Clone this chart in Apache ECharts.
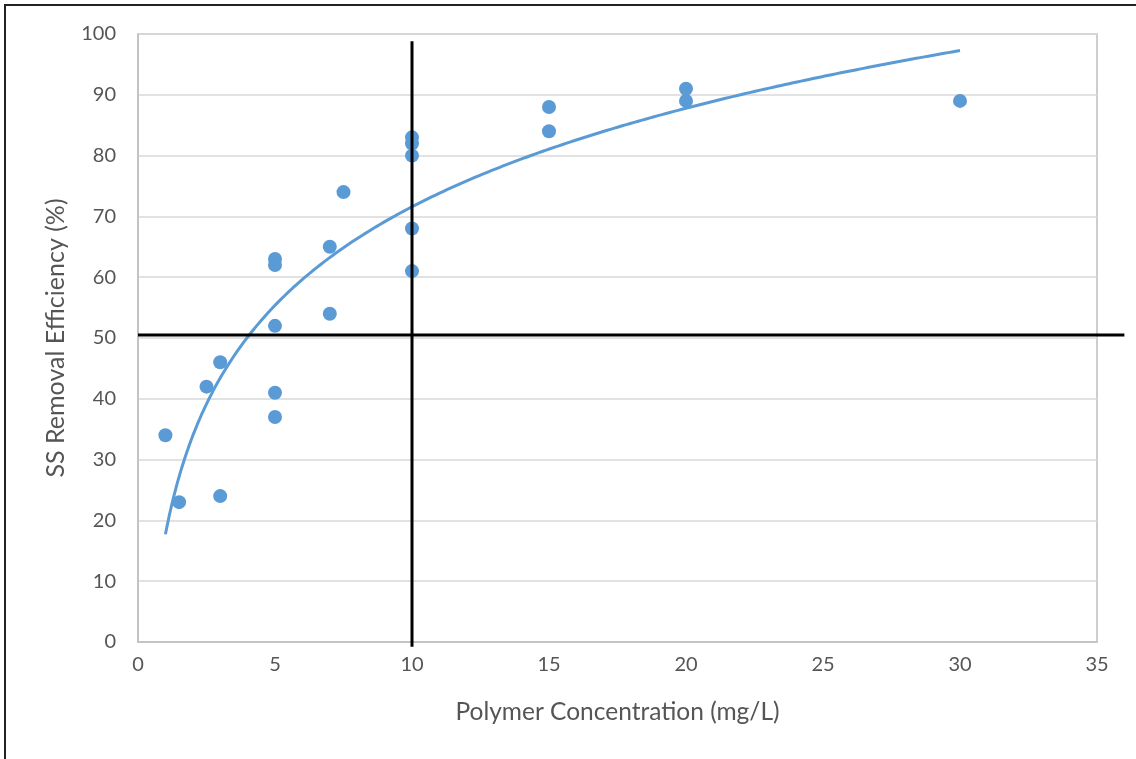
<!DOCTYPE html>
<html>
<head>
<meta charset="utf-8">
<script src="https://cdn.jsdelivr.net/npm/echarts@6/dist/echarts.min.js"></script>
<style>
  html, body { margin: 0; padding: 0; background: #fff; }
  #frame { position: absolute; left: 4px; top: 4px; width: 1140px; height: 760px; border-left: 2px solid #222; border-top: 2px solid #222; }
  #chart { position: absolute; left: 0; top: 0; width: 1136px; height: 759px; }
</style>
</head>
<body>
<div id="frame"></div>
<div id="chart"></div>
<script>
// Polymer dose (mg/L) against suspended-solids removal (%)
const concentration = [1, 1.5, 2.5, 3, 3, 5, 5, 5, 5, 5, 7, 7, 7.5, 10, 10, 10, 10, 10, 15, 15, 20, 20, 30];
const removal       = [34, 23, 42, 46, 24, 63, 62, 52, 41, 37, 65, 54, 74, 83, 82, 80, 68, 61, 88, 84, 91, 89, 89];

// Reference lines as [x1, y1, x2, y2] in data units
const refVertical   = [10, -0.8, 10, 98.8];   // marker at 10 mg/L
const refHorizontal = [0, 50.5, 36, 50.5];    // marker near 50 %

const xTicks = { min: 0, max: 35, interval: 5 };
const yTicks = { min: 0, max: 100, interval: 10 };

// Logarithmic least-squares fit: y = a ln(x) + b
function logFit(xs, ys) {
  const n = xs.length;
  let sl = 0, sy = 0, sll = 0, sly = 0;
  for (let i = 0; i < n; i++) {
    const l = Math.log(xs[i]);
    sl += l; sy += ys[i]; sll += l * l; sly += l * ys[i];
  }
  const a = (n * sly - sl * sy) / (n * sll - sl * sl);
  const b = (sy - a * sl) / n;
  return { a, b };
}
const fit = logFit(concentration, removal);
const xMin = Math.min(...concentration), xMax = Math.max(...concentration);
const trend = [];
for (let i = 0; i <= 200; i++) {
  const x = xMin + (xMax - xMin) * i / 200;
  trend.push([x, fit.a * Math.log(x) + fit.b]);
}

const points = concentration.map((x, i) => [x, removal[i]]);
const font = 'Lato, "Open Sans", sans-serif';
const grey = '#555555';

const chart = echarts.init(document.getElementById('chart'), null, { renderer: 'canvas' });
chart.setOption({
  animation: false,
  backgroundColor: 'transparent',
  grid: { left: 138, top: 34, right: 39, bottom: 117, show: true, borderColor: '#bfbfbf', borderWidth: 1.5 },
  xAxis: {
    type: 'value', min: xTicks.min, max: xTicks.max, interval: xTicks.interval,
    name: 'Polymer Concentration (mg/L)', nameLocation: 'middle', nameGap: 58,
    nameTextStyle: { fontFamily: font, fontSize: 24.5, color: grey },
    axisLine: { show: true, lineStyle: { color: '#bfbfbf', width: 1.5 } },
    axisTick: { show: false },
    axisLabel: { fontFamily: font, fontSize: 20, color: grey, margin: 13 },
    splitLine: { show: false }
  },
  yAxis: {
    type: 'value', min: yTicks.min, max: yTicks.max, interval: yTicks.interval,
    name: 'SS Removal Efficiency (%)', nameLocation: 'middle', nameGap: 70,
    nameTextStyle: { fontFamily: font, fontSize: 25, color: grey },
    axisLine: { show: true, lineStyle: { color: '#bfbfbf', width: 1.5 } },
    axisTick: { show: false },
    axisLabel: { fontFamily: font, fontSize: 20, color: grey, margin: 22 },
    splitLine: { show: true, lineStyle: { color: '#d9d9d9', width: 1.5 } }
  },
  series: [
    {
      type: 'line', data: trend, showSymbol: false, smooth: false,
      lineStyle: { color: '#5b9bd5', width: 3 }, z: 3
    },
    {
      type: 'scatter', data: points, symbol: 'circle', symbolSize: 14,
      itemStyle: { color: '#5b9bd5', opacity: 1 }, z: 4
    },
    {
      type: 'custom', clip: false, silent: true, z: 5,
      data: [refVertical, refHorizontal],
      encode: { x: [0, 2], y: [1, 3] },
      renderItem: (params, api) => {
        const p1 = api.coord([api.value(0), api.value(1)]);
        const p2 = api.coord([api.value(2), api.value(3)]);
        return {
          type: 'line',
          shape: { x1: p1[0], y1: p1[1], x2: p2[0], y2: p2[1] },
          style: { stroke: '#000', lineWidth: 3 }
        };
      }
    }
  ]
});
</script>
</body>
</html>
